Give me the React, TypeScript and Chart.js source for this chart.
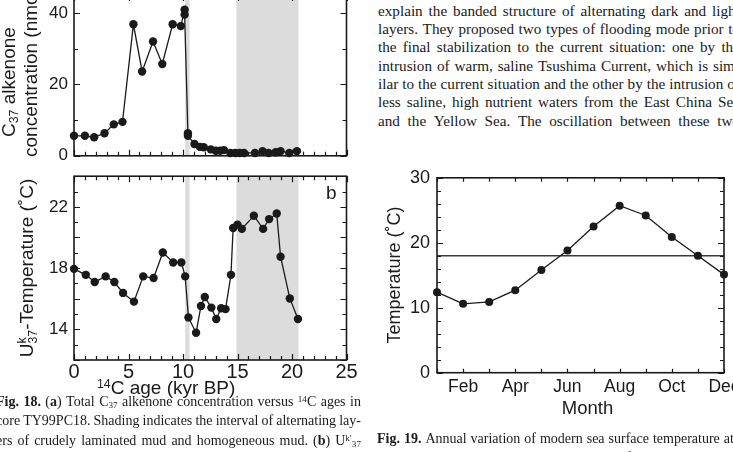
import React, { useEffect, useRef } from 'react';
import { Chart, registerables } from 'chart.js';

Chart.register(...registerables);

// ---- Fig. 18a: total C37 alkenone concentration (nmol/g) vs 14C age (kyr BP)
const alkAge = [0, 1.0, 1.85, 2.8, 3.65, 4.45, 5.45, 6.25, 7.25, 8.1, 9.05, 9.8, 10.15, 10.15, 10.45, 10.45, 11.05, 11.55, 11.9, 12.55, 13.0, 13.4, 13.75, 14.35, 14.8, 15.2, 15.6, 16.6, 17.3, 17.85, 18.5, 18.95, 19.75, 20.45];
const alkConc = [5.6, 5.6, 5.2, 6.3, 8.8, 9.5, 36.8, 23.6, 32.0, 25.7, 36.8, 36.3, 40.9, 39.5, 6.3, 5.6, 3.3, 2.5, 2.4, 1.8, 1.4, 1.4, 1.6, 0.8, 0.8, 0.8, 0.8, 0.8, 1.3, 0.8, 1.0, 1.3, 0.8, 1.3];
const alkTicks = [0, 20, 40];

// ---- Fig. 18b: Uk37 temperature (°C) vs 14C age (kyr BP)
const ukAge = [0, 1.08, 1.9, 2.9, 3.7, 4.5, 5.5, 6.35, 7.3, 8.15, 9.1, 9.85, 10.2, 10.5, 11.2, 11.65, 12.0, 12.6, 13.05, 13.5, 13.9, 14.4, 14.6, 15.0, 15.4, 16.5, 17.35, 17.9, 18.6, 18.95, 19.8, 20.55];
const ukTemp = [17.95, 17.56, 17.09, 17.46, 17.09, 16.38, 15.81, 17.46, 17.35, 19.02, 18.37, 18.37, 17.46, 14.78, 13.78, 15.53, 16.11, 15.42, 14.68, 15.38, 15.32, 17.56, 20.62, 20.84, 20.56, 21.42, 20.56, 21.2, 21.56, 18.74, 16.02, 14.68];
const ukTicks = [14, 18, 22];
const ageTicks = [0, 5, 10, 15, 20, 25];

// shaded intervals (kyr BP): alternating laminated / homogeneous mud
const bandStart = [10.2, 14.9];
const bandEnd = [10.6, 20.6];

// ---- Fig. 19: monthly modern SST (°C) and the reference level
const months = ['Jan', 'Feb', 'Mar', 'Apr', 'May', 'Jun', 'Jul', 'Aug', 'Sep', 'Oct', 'Nov', 'Dec'];
const sst = [12.4, 10.6, 10.9, 12.7, 15.8, 18.8, 22.5, 25.7, 24.2, 20.9, 18.0, 15.1];
const sstLevel = 18.0;
const sstTicks = [0, 10, 20, 30];

const ink = '#1a1a1a';
const shade = '#dcdcdc';
const sans = '"Liberation Sans", Arial, Helvetica, sans-serif';
const serif = '"Liberation Serif", "Times New Roman", serif';

const range = (a: number, b: number, s: number) => {
  const out: number[] = [];
  for (let v = a; v <= b + 1e-9; v += s) out.push(+v.toFixed(6));
  return out;
};

// frame round the plot area with inward ticks on all four sides
const frameTicks = (xMinor: number[], xMajor: number[], yMinor: number[], yMajor: number[]) => ({
  id: 'frameTicks',
  afterDraw(chart: any) {
    const { ctx, chartArea: a, scales } = chart;
    ctx.save();
    ctx.strokeStyle = ink;
    ctx.lineWidth = 1.2;
    ctx.beginPath();
    const xs = [...xMinor.map((v) => [v, 4]), ...xMajor.map((v) => [v, 6])];
    for (const [v, len] of xs) {
      const p = Math.round(scales.x.getPixelForValue(v)) + 0.5;
      ctx.moveTo(p, a.bottom); ctx.lineTo(p, a.bottom - len);
      ctx.moveTo(p, a.top); ctx.lineTo(p, a.top + len);
    }
    const ys = [...yMinor.map((v) => [v, 4]), ...yMajor.map((v) => [v, 6])];
    for (const [v, len] of ys) {
      const p = Math.round(scales.y.getPixelForValue(v)) + 0.5;
      ctx.moveTo(a.left, p); ctx.lineTo(a.left + len, p);
      ctx.moveTo(a.right, p); ctx.lineTo(a.right - len, p);
    }
    ctx.stroke();
    ctx.lineWidth = 1.6;
    ctx.strokeRect(a.left, a.top, a.right - a.left, a.bottom - a.top);
    ctx.restore();
  },
});

// grey bands behind the series
const bands = {
  id: 'bands',
  beforeDatasetsDraw(chart: any) {
    const { ctx, chartArea: a, scales } = chart;
    ctx.save();
    ctx.fillStyle = shade;
    bandStart.forEach((s, i) => {
      const x0 = scales.x.getPixelForValue(s);
      const x1 = scales.x.getPixelForValue(bandEnd[i]);
      ctx.fillRect(x0, a.top, x1 - x0, a.bottom - a.top);
    });
    ctx.restore();
  },
};

const base = {
  animation: false as const,
  responsive: false,
  maintainAspectRatio: false,
  devicePixelRatio: 1,
  events: [] as any[],
  plugins: { legend: { display: false }, tooltip: { enabled: false }, title: { display: false } },
};

const tickFont = (size: number) => ({ family: sans, size, weight: 'normal' as const });
const noGrid = { display: false, drawTicks: false };
const noBorder = { display: false };

const lineSet = (data: any[], radius: number) => ({
  data,
  showLine: true,
  borderColor: ink,
  borderWidth: 1.3,
  pointRadius: radius,
  pointBackgroundColor: ink,
  pointBorderColor: ink,
  pointBorderWidth: 0,
  clip: false as const,
});

const cfgAlk = (): any => ({
  type: 'scatter',
  data: { datasets: [lineSet(alkAge.map((x, i) => ({ x, y: alkConc[i] })), 4.2)] },
  options: {
    ...base,
    layout: { padding: { top: 25, right: 13.5, left: 0, bottom: 0 } },
    scales: {
      x: {
        type: 'linear', min: 0, max: 25,
        afterFit: (s: any) => { s.height = 12; },
        ticks: { display: false }, grid: noGrid, border: noBorder,
      },
      y: {
        type: 'linear', min: 0, max: 45,
        afterFit: (s: any) => { s.width = 74; },
        afterBuildTicks: (s: any) => { s.ticks = alkTicks.map((value) => ({ value })); },
        ticks: { font: tickFont(17), color: ink, padding: 6 },
        grid: noGrid, border: noBorder,
      },
    },
  },
  plugins: [bands, frameTicks(range(0, 25, 1), range(0, 25, 5), range(0, 45, 10), alkTicks)],
});

const cfgUk = (): any => ({
  type: 'scatter',
  data: { datasets: [lineSet(ukAge.map((x, i) => ({ x, y: ukTemp[i] })), 4.2)] },
  options: {
    ...base,
    layout: { padding: { top: 13, right: 13.5, left: 0, bottom: 0 } },
    scales: {
      x: {
        type: 'linear', min: 0, max: 25,
        afterFit: (s: any) => { s.height = 30; },
        afterBuildTicks: (s: any) => { s.ticks = ageTicks.map((value) => ({ value })); },
        ticks: { font: tickFont(20), color: ink, padding: 0, maxRotation: 0 },
        grid: noGrid, border: noBorder,
      },
      y: {
        type: 'linear', min: 12, max: 24,
        afterFit: (s: any) => { s.width = 74; },
        afterBuildTicks: (s: any) => { s.ticks = ukTicks.map((value) => ({ value })); },
        ticks: { font: tickFont(17), color: ink, padding: 6 },
        grid: noGrid, border: noBorder,
      },
    },
  },
  plugins: [bands, frameTicks(range(0, 25, 1), range(0, 25, 5), range(12, 24, 1), range(12, 24, 2))],
});

const cfgSst = (): any => ({
  type: 'line',
  data: {
    labels: months,
    datasets: [
      lineSet(sst, 4),
      {
        data: months.map(() => sstLevel),
        borderColor: '#3a3a3a',
        borderWidth: 1.6,
        pointRadius: 0,
        fill: false,
      },
    ],
  },
  options: {
    ...base,
    layout: { padding: { top: 16.7, right: 26, left: 0, bottom: 0 } },
    scales: {
      x: {
        type: 'category', offset: false,
        afterFit: (s: any) => { s.height = 57.3; },
        ticks: {
          font: tickFont(17.5), color: ink, padding: 4, autoSkip: false, maxRotation: 0,
          callback: (_v: any, i: number) => (i % 2 === 1 ? months[i] : ''),
        },
        grid: noGrid, border: noBorder,
      },
      y: {
        type: 'linear', min: 0, max: 30,
        afterFit: (s: any) => { s.width = 67; },
        afterBuildTicks: (s: any) => { s.ticks = sstTicks.map((value) => ({ value })); },
        ticks: { font: tickFont(18), color: ink, padding: 7 },
        grid: noGrid, border: noBorder,
      },
    },
  },
  plugins: [frameTicks(range(0, 11, 1), [], range(0, 30, 2), sstTicks)],
});

function ChartCanvas({ make, left, top, width, height }: { make: () => any; left: number; top: number; width: number; height: number }) {
  const ref = useRef<HTMLCanvasElement>(null);
  useEffect(() => {
    const chart = new Chart(ref.current as HTMLCanvasElement, make());
    return () => chart.destroy();
  }, [make]);
  return (
    <canvas
      ref={ref}
      width={width}
      height={height}
      style={{ position: 'absolute', left, top, width, height, display: 'block' }}
    />
  );
}

// text rotated a quarter turn, reading upwards, centred on (cx, cy)
function VText({ cx, cy, size, children }: { cx: number; cy: number; size: number; children: React.ReactNode }) {
  return (
    <div
      style={{
        position: 'absolute', left: cx, top: cy, whiteSpace: 'nowrap',
        fontFamily: sans, fontSize: size, lineHeight: 1.15, color: ink,
        transform: 'translate(-50%, -50%) rotate(-90deg)',
      }}
    >
      {children}
    </div>
  );
}

// text rotated a quarter turn, reading upwards from (cx, bottom)
function VTextFrom({ cx, bottom, size, children }: { cx: number; bottom: number; size: number; children: React.ReactNode }) {
  const lh = size * 1.15;
  return (
    <div
      style={{
        position: 'absolute', left: cx - lh / 2, top: bottom, whiteSpace: 'nowrap',
        fontFamily: sans, fontSize: size, lineHeight: `${lh}px`, color: ink,
        transform: 'rotate(-90deg)', transformOrigin: '0 0',
      }}
    >
      {children}
    </div>
  );
}

const sub = (t: string) => <span style={{ fontSize: '0.65em', verticalAlign: '-0.25em', lineHeight: 0 }}>{t}</span>;
const sup = (t: string) => <span style={{ fontSize: '0.65em', verticalAlign: '0.45em', lineHeight: 0 }}>{t}</span>;

type Line = React.ReactNode[];
const plain = (s: string): Line => s.split(' ');

// fully justified lines: words spread across the column width
function Justified({ lines, left, top, width, size, lh }: { lines: Line[]; left: number; top: number; width: number; size: number; lh: number }) {
  return (
    <div style={{ position: 'absolute', left, top, width, fontFamily: serif, fontSize: size, lineHeight: `${lh}px`, color: ink }}>
      {lines.map((ws, i) => (
        <div key={i} style={{ display: 'flex', justifyContent: 'space-between', height: lh, whiteSpace: 'nowrap' }}>
          {ws.map((w, j) => <span key={j}>{w}</span>)}
        </div>
      ))}
    </div>
  );
}

const bodyLines: Line[] = [
  'explain the banded structure of alternating dark and light',
  'layers. They proposed two types of flooding mode prior to',
  'the final stabilization to the current situation: one by the',
  'intrusion of warm, saline Tsushima Current, which is sim-',
  'ilar to the current situation and the other by the intrusion of',
  'less saline, high nutrient waters from the East China Sea',
  'and the Yellow Sea. The oscillation between these two',
].map(plain);

const cap18: Line[] = [
  [<b>Fig.</b>, <b>18.</b>, <>(<b>a</b>)</>, 'Total', <>C{sub('37')}</>, 'alkenone', 'concentration', 'versus', <>{sup('14')}C</>, 'ages', 'in'],
  plain('core TY99PC18. Shading indicates the interval of alternating lay-'),
  [...plain('ers of crudely laminated mud and homogeneous mud.'), <>(<b>b</b>)</>, <>U{sup('k\u2032')}{sub('37')}</>],
];

const cap19: Line[] = [
  [<b>Fig.</b>, <b>19.</b>, ...plain('Annual variation of modern sea surface temperature at')],
  plain('location close to TY99PC18. All mean SST for recent sediment'),
];

export default function App() {
  return (
    <div
      style={{
        position: 'fixed', left: 0, top: 0, width: 733, height: 452,
        overflow: 'hidden', background: '#fff',
      }}
    >
      <ChartCanvas make={cfgAlk} left={0} top={-30} width={360} height={202} />
      <ChartCanvas make={cfgUk} left={0} top={160} width={360} height={230} />
      <ChartCanvas make={cfgSst} left={370} top={160} width={380} height={270} />

      <VTextFrom cx={9} bottom={137} size={19}>C{sub('37')} alkenone</VTextFrom>
      <VTextFrom cx={31} bottom={157} size={19}>concentration (nmol/g)</VTextFrom>
      <VText cx={28} cy={268} size={19}>
        U<span style={{ display: 'inline-block', position: 'relative', fontSize: '0.65em', verticalAlign: '-0.3em' }}>
          37
          <span style={{ position: 'absolute', left: 0, top: '-0.85em' }}>k</span>
        </span>-Temperature (˚C)
      </VText>
      <div style={{ position: 'absolute', left: 326, top: 182.5, fontFamily: sans, fontSize: 19, lineHeight: '19px', color: ink }}>b</div>
      <div style={{ position: 'absolute', left: 97, top: 376, fontFamily: sans, fontSize: 19, lineHeight: '23px', color: ink, whiteSpace: 'nowrap' }}>
        {sup('14')}C age (kyr BP)
      </div>

      <VText cx={393.5} cy={275} size={18}>Temperature (˚C)</VText>
      <div style={{ position: 'absolute', left: 587.5, top: 408, transform: 'translate(-50%, -50%)', fontFamily: sans, fontSize: 18.5, lineHeight: 1.15, color: ink }}>
        Month
      </div>

      <Justified lines={bodyLines} left={378} top={1.8} width={362} size={15.2} lh={18.33} />
      <Justified lines={cap18} left={-4} top={391.9} width={365} size={14} lh={19.6} />
      <Justified lines={cap19} left={377} top={428.6} width={357} size={14} lh={19.6} />
    </div>
  );
}
